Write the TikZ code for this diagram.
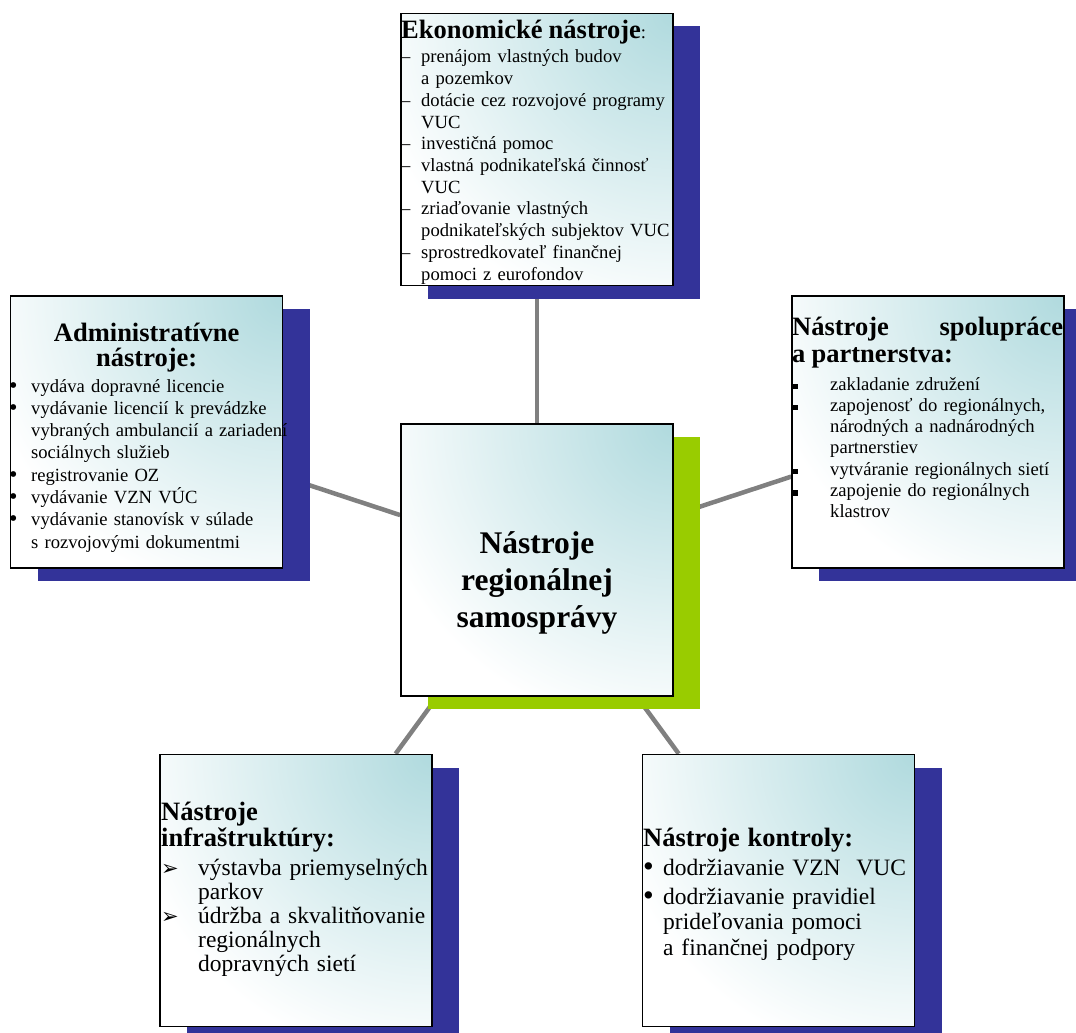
\documentclass[tikz,border=0pt]{standalone}
\usepackage{graphicx}
\usepackage{fontspec}
\setmainfont{Liberation Serif}
\newfontfamily\symfont{DejaVu Sans}
\usetikzlibrary{shadows,backgrounds}

\definecolor{shadowblue}{RGB}{51,51,153}
\definecolor{hubgreen}{RGB}{153,204,0}
\definecolor{boxteal}{RGB}{176,218,222}
\definecolor{linkgray}{RGB}{128,128,128}

\newlength\markwd
\newcommand\headfont{\fontsize{26.5}{25}\selectfont\bfseries}
\newcommand\nl{\hfil\break}
\newcommand\itemrow[2]{\par\noindent\hangindent=\markwd\hangafter=1\makebox[\markwd][l]{#1}#2\par}
\newcommand\dotmark{\raisebox{-1pt}{\scalebox{1.3}{•}}}
\newcommand\sqmark{\rule[1pt]{5.5pt}{5.5pt}}
\newcommand\arrmark{{\symfont\fontsize{21}{21}\selectfont ➢}}

\begin{document}
\begin{tikzpicture}[x=1pt,y=-1pt,
  toolbox/.style={draw, line width=1.6pt, fill=white,
    path picture={\shade[inner color=boxteal, outer color=white]
      (path picture bounding box.north east) circle (310pt);},
    minimum width=272pt, minimum height=272pt, inner sep=0pt,
    drop shadow={shadow xshift=27pt, shadow yshift=-13pt, fill=#1, opacity=1}},
  toolbox/.default=shadowblue,
  boxtext/.style={inner sep=0pt, anchor=base west, align=left, text width=300pt},
  link/.style={draw=linkgray, line width=4.5pt}]
\useasboundingbox (0,0) rectangle (1076,1033);

\node[toolbox] (eko) at (537,149.5) {};
\node[toolbox] (adm) at (146.5,432) {};
\node[toolbox] (par) at (928,432) {};
\node[toolbox] (inf) at (296,890.5) {};
\node[toolbox] (kon) at (778.5,890.5) {};
\node[toolbox=hubgreen] (hub) at (537,560) {};

\begin{scope}[on background layer]
\draw[link] (hub) -- (eko);
\draw[link] (hub) -- (adm);
\draw[link] (hub) -- (par);
\draw[link] (hub) -- (inf);
\draw[link] (hub) -- (kon);
\end{scope}

\node[boxtext, font=\fontsize{18.6}{21.7}\selectfont] (ekoText) at (401,39) {\setlength\markwd{20pt}%
{\headfont Ekonomické nástroje}:\par\vspace{2.3pt}%
\itemrow{–}{prenájom vlastných budov\nl a pozemkov}%
\itemrow{–}{dotácie cez rozvojové programy\nl VUC}%
\itemrow{–}{investičná pomoc}%
\itemrow{–}{vlastná podnikateľská činnosť\nl VUC}%
\itemrow{–}{zriaďovanie vlastných\nl podnikateľských subjektov VUC}%
\itemrow{–}{sprostredkovateľ finančnej\nl pomoci z eurofondov}};

\node[boxtext, font=\fontsize{18.6}{22.3}\selectfont] (admText) at (9,341) {\setlength\markwd{22pt}%
{\headfont\makebox[275pt]{Administratívne}\\\makebox[275pt]{nástroje:}\par}\vspace{3.7pt}%
\itemrow{\dotmark}{vydáva dopravné licencie}%
\itemrow{\dotmark}{vydávanie licencií k prevádzke\nl vybraných ambulancií a zariadení\nl sociálnych služieb}%
\itemrow{\dotmark}{registrovanie OZ}%
\itemrow{\dotmark}{vydávanie VZN VÚC}%
\itemrow{\dotmark}{vydávanie stanovísk v súlade\nl s rozvojovými dokumentmi}};

\node[boxtext, font=\fontsize{18.6}{21.3}\selectfont] (parText) at (792,335) {\setlength\markwd{38pt}%
{\headfont\makebox[271pt][l]{Nástroje\hfill spolupráce}\\[2pt]a partnerstva:\par}\vspace{6.7pt}%
\itemrow{\sqmark}{zakladanie združení}%
\itemrow{\sqmark}{zapojenosť do regionálnych,\nl národných a nadnárodných\nl partnerstiev}%
\itemrow{\sqmark}{vytváranie regionálnych sietí}%
\itemrow{\sqmark}{zapojenie do regionálnych\nl klastrov}};

\node[boxtext, font=\fontsize{23.5}{24}\selectfont] (infText) at (161,820) {\setlength\markwd{37pt}%
{\headfont Nástroje\\[1pt]infraštruktúry:\par}\vspace{5pt}%
\itemrow{\arrmark}{výstavba priemyselných\nl parkov}%
\itemrow{\arrmark}{údržba a skvalitňovanie\nl regionálnych\nl dopravných sietí}};

\node[boxtext, font=\fontsize{23.5}{25.5}\selectfont] (konText) at (643,846) {\setlength\markwd{20pt}%
{\headfont Nástroje kontroly:\par}\vspace{3.5pt}%
\itemrow{\dotmark}{dodržiavanie VZN \ VUC}\vspace{3.5pt}%
\itemrow{\dotmark}{dodržiavanie pravidiel\nl prideľovania pomoci\nl a finančnej podpory}};

\node[inner sep=0pt, anchor=base, align=center, text width=274pt,
  font=\fontsize{31.5}{37}\selectfont\bfseries] (hubText) at (537,553) {Nástroje\\regionálnej\\samosprávy};
\end{tikzpicture}
\end{document}
